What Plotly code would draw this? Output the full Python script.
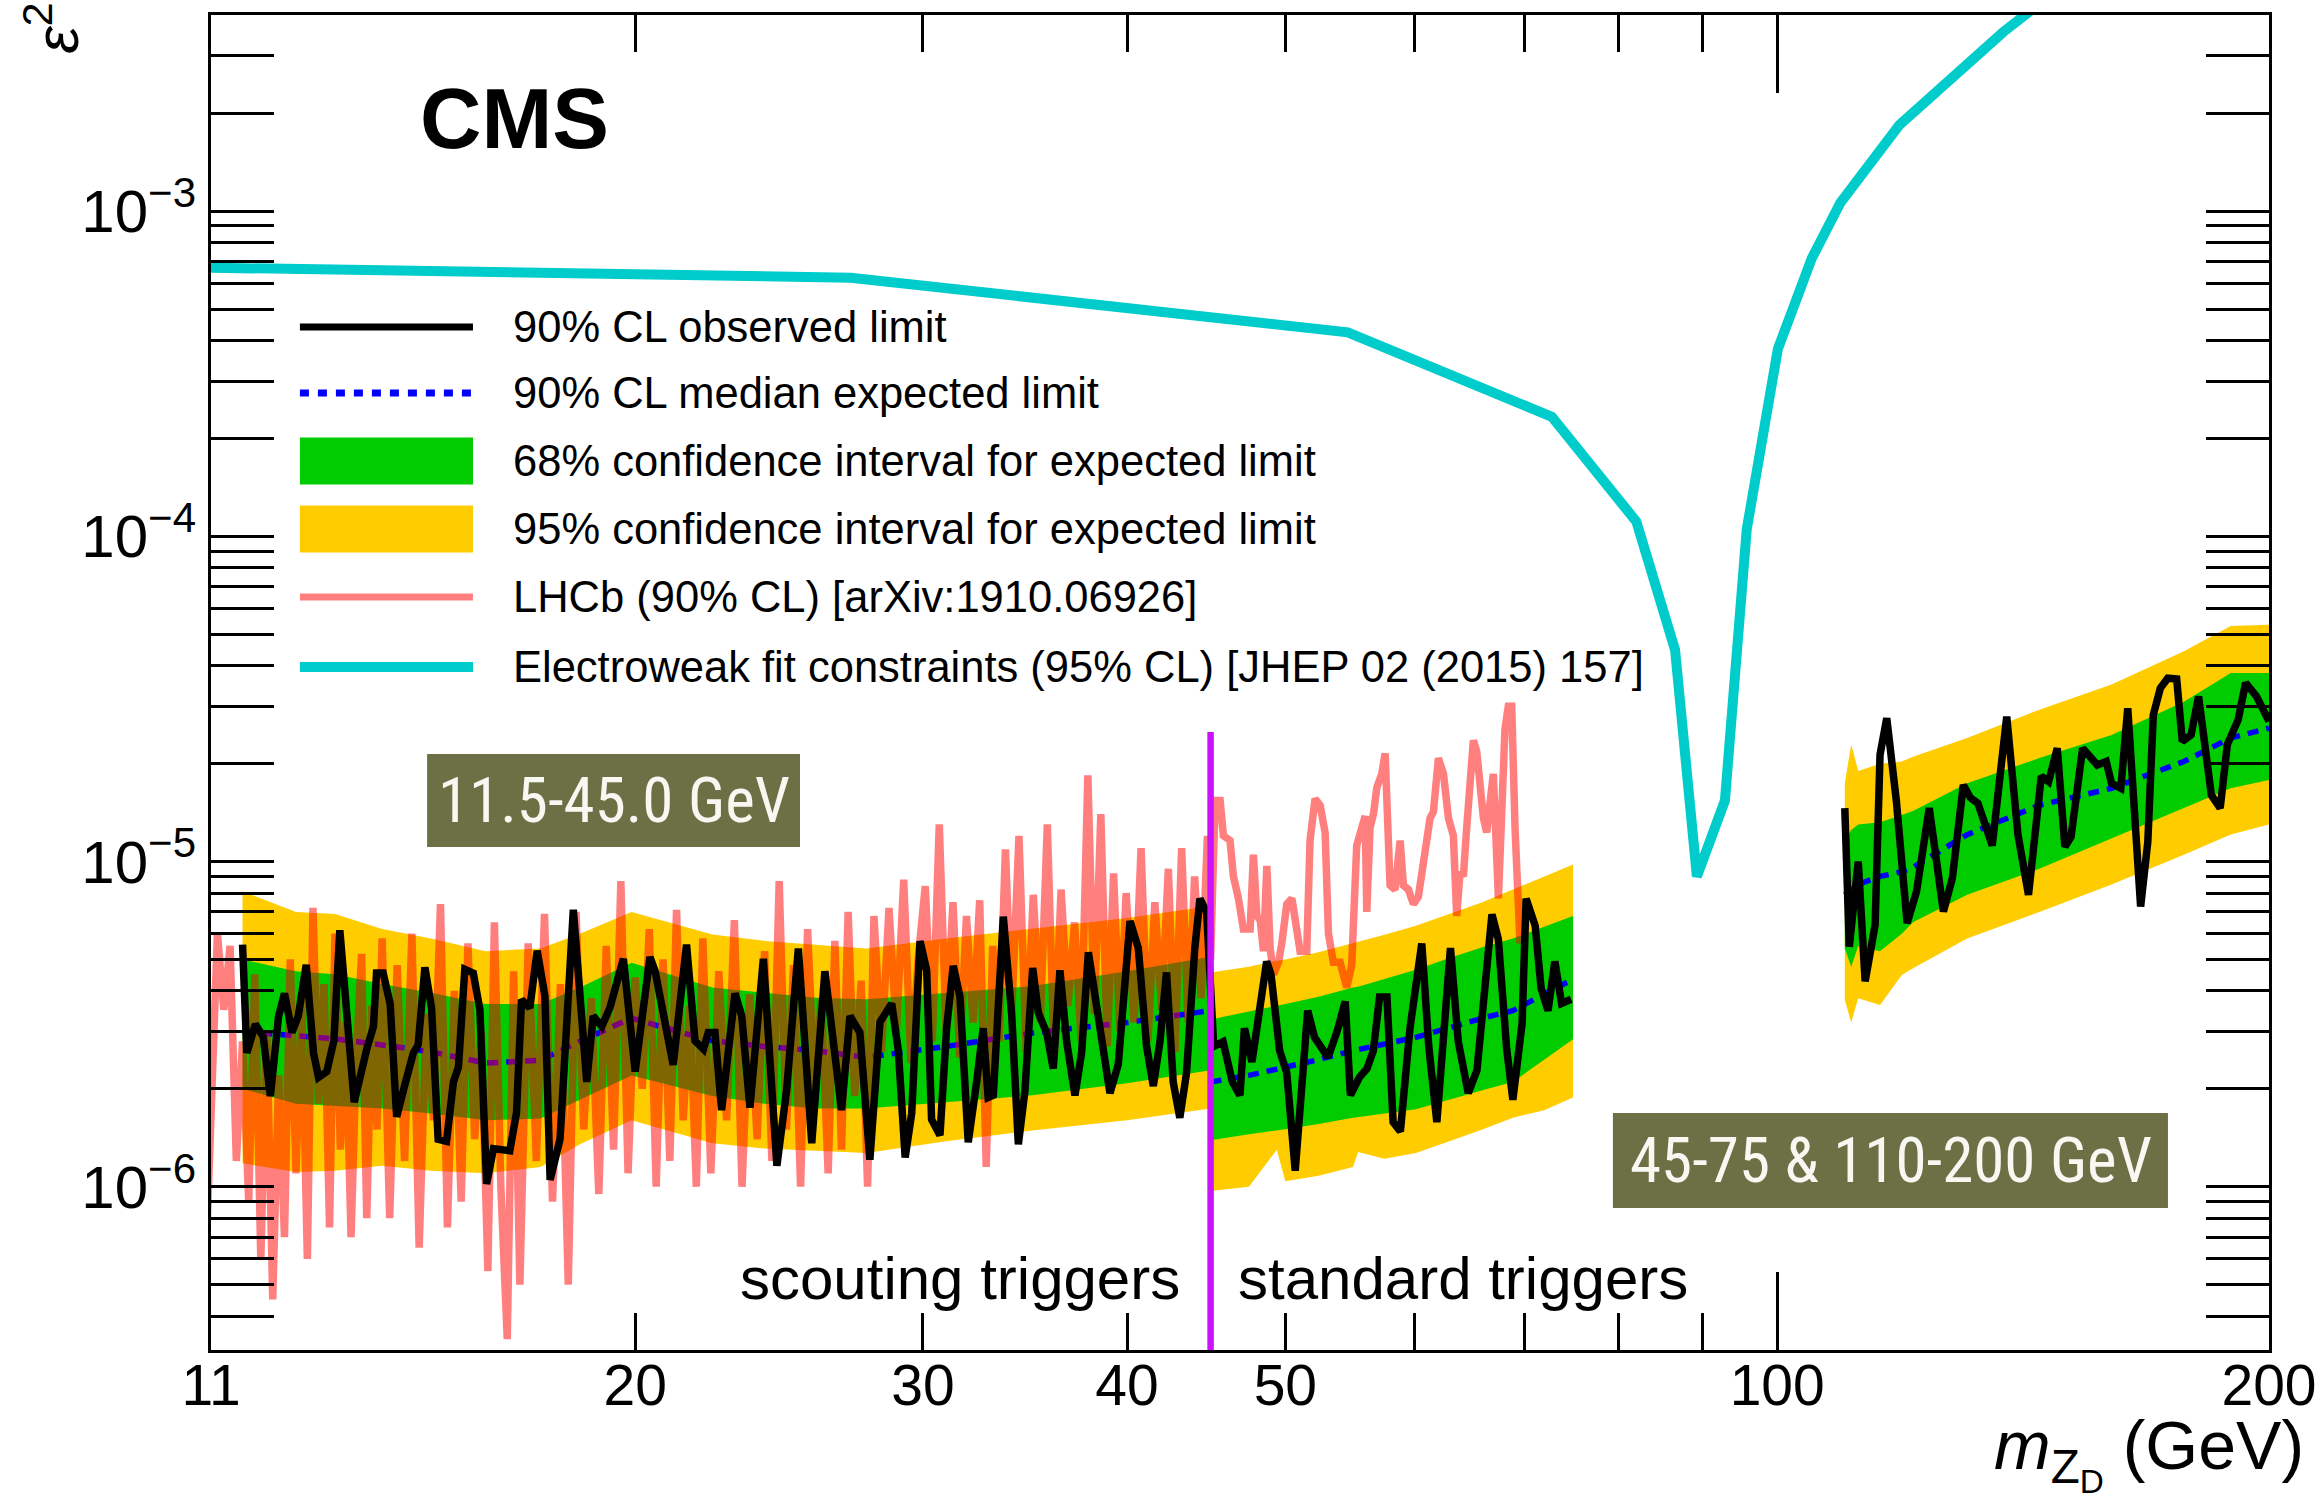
import math
import plotly.graph_objects as go

FONT = "Liberation Sans, Arial, Helvetica, sans-serif"
E6 = 1e-6

# ---------------- data (mass in GeV, limits in units of 1e-6 unless noted) ----------------
# Region 1: scouting triggers 11.5-45 GeV
exp1_m = [11.5, 12.4, 13.1, 14.0, 15.0, 16.2, 17.5, 18.5, 19.9, 21.0, 22.3, 24.0, 25.8, 27.7, 31.0, 35.0, 40.0, 45.0]
exp1_y2hi = [8.1, 7.0, 6.9, 6.2, 5.8, 5.3, 5.4, 6.0, 7.0, 6.5, 5.97, 5.7, 5.56, 5.4, 5.8, 6.2, 6.7, 7.3]
exp1_y1hi = [5.0, 4.6, 4.5, 4.2, 3.95, 3.65, 3.65, 4.1, 4.88, 4.5, 4.1, 3.95, 3.81, 3.77, 3.95, 4.14, 4.6, 5.1]
exp1_y1lo = [2.0, 1.8, 1.77, 1.74, 1.68, 1.6, 1.62, 1.85, 2.2, 2.05, 1.9, 1.8, 1.74, 1.74, 1.82, 1.91, 2.08, 2.28]
exp1_y2lo = [1.18, 1.11, 1.12, 1.16, 1.12, 1.1, 1.15, 1.35, 1.6, 1.48, 1.36, 1.31, 1.29, 1.27, 1.38, 1.49, 1.6, 1.74]
exp1_med = [3.0, 2.9, 2.85, 2.73, 2.6, 2.4, 2.45, 2.8, 3.3, 3.05, 2.81, 2.7, 2.62, 2.5, 2.7, 2.97, 3.2, 3.48]

# Region 2: standard triggers 45-75 GeV
exp2_m = [45.0, 47.5, 49.4, 50.0, 52.4, 55.0, 55.4, 57.5, 60.1, 63.0, 66.0, 68.9, 72.0, 75.0]
exp2_y2hi = [4.56, 4.75, 4.95, 5.0, 5.26, 5.6, 5.65, 5.95, 6.35, 6.9, 7.5, 8.2, 9.0, 9.8]
exp2_y1hi = [3.27, 3.45, 3.6, 3.65, 3.84, 4.1, 4.12, 4.35, 4.65, 5.05, 5.45, 5.8, 6.3, 6.8]
exp2_y1lo = [1.39, 1.45, 1.49, 1.5, 1.56, 1.63, 1.64, 1.68, 1.73, 1.85, 1.98, 2.1, 2.45, 2.84]
exp2_y2lo = [0.97, 1.0, 1.3, 1.04, 1.08, 1.15, 1.28, 1.22, 1.27, 1.38, 1.5, 1.63, 1.72, 1.88]
exp2_med = [2.1, 2.2, 2.3, 2.33, 2.46, 2.62, 2.64, 2.75, 2.88, 3.08, 3.3, 3.48, 3.9, 4.35]

# Region 3: standard triggers 110-200 GeV
exp3_m = [110.0, 111.0, 112.1, 115.6, 119.2, 121.1, 130.7, 144.7, 160.2, 177.4, 189.5, 200.0]
exp3_y2hi = [17.4, 22.9, 19.0, 20.0, 20.3, 21.0, 24.0, 29.3, 35.0, 44.3, 53.0, 53.5]
exp3_y1hi = [11.5, 12.5, 13.0, 13.2, 13.9, 14.3, 17.4, 20.8, 24.5, 31.0, 38.0, 38.0]
exp3_y1lo = [5.4, 4.75, 5.5, 5.3, 6.0, 6.5, 7.9, 9.5, 11.8, 14.6, 16.8, 17.8]
exp3_y2lo = [3.75, 3.2, 3.8, 3.62, 4.48, 4.7, 5.8, 7.0, 8.5, 10.5, 12.1, 13.0]
exp3_med = [7.9, 8.2, 8.5, 9.0, 9.3, 9.6, 12.1, 14.9, 16.8, 20.3, 24.0, 25.7]

# Observed limit, 11.5-75 GeV (continuous) and 110-200 GeV
obs12_m = [11.50, 11.57, 11.71, 11.84, 11.96, 12.10, 12.20, 12.33, 12.44, 12.58, 12.71, 12.80, 12.95, 13.08,
           13.19, 13.32, 13.46, 13.70, 13.83, 13.89, 14.02, 14.16, 14.29, 14.46, 14.63, 14.73, 14.87, 15.01,
           15.15, 15.33, 15.48, 15.59, 15.73, 15.92, 16.07, 16.22, 16.38, 16.76, 16.92, 17.04, 17.24, 17.42,
           17.61, 17.74, 17.99, 18.33, 18.68, 18.85, 19.08, 19.30, 19.67, 20.00, 20.42, 20.57, 20.91, 21.10,
           21.50, 21.76, 22.02, 22.17, 22.38, 22.59, 23.02, 23.24, 23.51, 23.96, 24.42, 24.76, 25.17, 25.65,
           26.13, 26.75, 27.07, 27.45, 27.84, 28.24, 28.71, 28.98, 29.26, 29.53, 29.88, 30.16, 30.37, 30.73,
           31.02, 31.31, 31.61, 31.98, 32.36, 32.66, 32.89, 33.13, 33.60, 34.00, 34.32, 34.64, 35.02, 35.30,
           35.72, 36.05, 36.39, 36.74, 37.17, 37.52, 37.88, 38.32, 39.05, 39.51, 40.17, 40.64, 41.12, 41.51,
           41.90, 42.29, 42.69, 43.09, 43.50, 44.01, 44.33, 44.75,
           45.2, 45.8, 46.4, 46.9, 47.2, 47.7, 48.3, 48.7, 49.0, 49.6, 50.1, 50.7, 51.6, 52.1, 53.1, 53.8,
           54.4, 54.8, 55.5, 56.1, 56.6, 57.1, 57.7, 58.2, 58.8, 59.6, 60.6, 61.2, 61.9, 63.1, 63.8, 64.7,
           65.5, 66.9, 67.5, 68.3, 68.9, 69.8, 70.2, 71.1, 71.7, 72.4, 73.1, 73.8, 74.8]
obs12_y = [5.55, 2.58, 3.16, 2.89, 1.90, 3.35, 3.93, 2.98, 3.35, 4.81, 2.58, 2.17, 2.26, 2.81,
           6.15, 3.55, 1.82, 2.65, 3.11, 4.54, 4.54, 3.65, 1.64, 2.07, 2.58, 2.73, 4.73, 3.55,
           1.40, 1.38, 2.10, 2.33, 4.66, 4.54, 3.49, 1.02, 1.31, 1.29, 1.69, 3.76, 3.55, 5.32,
           3.86, 1.05, 1.40, 7.11, 2.10, 3.35, 3.11, 3.55, 5.02, 2.26, 5.09, 4.60, 3.07, 2.37,
           5.55, 2.81, 2.65, 2.98, 2.98, 1.72, 3.93, 3.35, 1.75, 5.02, 1.16, 1.99, 5.40, 1.36,
           4.60, 1.72, 3.35, 2.98, 1.21, 3.21, 3.66, 2.62, 1.23, 1.68, 5.69, 4.63, 1.61, 1.44,
           3.07, 4.78, 3.83, 1.37, 2.10, 3.07, 1.88, 1.91, 6.77, 3.38, 1.35, 1.97, 4.71, 3.43,
           2.97, 2.31, 4.63, 2.79, 1.91, 2.58, 5.26, 3.60, 1.94, 2.38, 6.56, 5.42, 2.70, 2.04,
           2.79, 4.56, 2.10, 1.63, 2.24, 5.42, 7.69, 6.99,
           2.70, 2.79, 2.10, 1.91, 3.07, 2.42, 3.71, 4.93, 4.49, 2.62, 2.24, 1.12, 3.48, 2.88, 2.50, 3.02,
           3.71, 1.91, 2.17, 2.31, 2.62, 3.83, 3.83, 1.58, 1.48, 3.07, 5.60, 2.70, 1.58, 5.42, 2.79, 1.94,
           2.28, 6.88, 5.78, 2.66, 1.85, 3.17, 7.69, 6.35, 4.08, 3.48, 4.93, 3.66, 3.77]

obs3_m = [110.0, 110.7, 112.1, 113.2, 114.8, 115.6, 116.7, 118.3, 120.1, 121.7, 123.9, 126.4, 128.0, 130.0,
          131.3, 132.7, 135.4, 138.2, 140.4, 142.5, 145.1, 146.6, 148.4, 150.0, 151.3, 153.8, 157.0, 159.0,
          160.2, 162.3, 163.9, 165.6, 166.9, 168.6, 169.9, 171.6, 173.4, 175.6, 177.0, 179.2, 181.1, 184.4,
          186.7, 188.6, 191.5, 193.5, 196.5, 200.0]
obs3_y = [14.6, 5.47, 10.0, 4.28, 6.38, 21.3, 27.6, 15.3, 6.46, 8.09, 14.6, 7.02, 8.88, 17.2,
          15.7, 15.1, 11.2, 27.9, 12.1, 7.9, 18.3, 17.6, 22.3, 11.1, 11.9, 22.3, 19.8, 20.3,
          17.4, 16.8, 29.6, 12.1, 7.27, 11.5, 28.2, 34.1, 36.6, 36.4, 23.4, 24.5, 32.2, 16.0,
          14.6, 22.9, 27.3, 35.4, 32.2, 27.0]

# LHCb (90% CL) [arXiv:1910.06926]
lhcb_m = [10.9, 11.0, 11.1, 11.2, 11.3, 11.4, 11.5, 11.6, 11.7, 11.8, 11.9, 12.0, 12.1, 12.2, 12.3, 12.4,
          12.5, 12.6, 12.7, 12.8, 12.9, 13.0, 13.1, 13.2, 13.3, 13.4, 13.5, 13.6, 13.7, 13.8, 13.9, 14.0,
          14.15, 14.3, 14.45, 14.6, 14.75, 14.9, 15.05, 15.2, 15.35, 15.5, 15.65, 15.8, 15.95, 16.1, 16.25,
          16.4, 16.55, 16.7, 16.85, 17.0,
          17.2, 17.4, 17.6, 17.8, 18.0, 18.2, 18.4, 18.6, 18.8, 19.0, 19.2, 19.4, 19.6, 19.8, 20.0, 20.2,
          20.4, 20.6, 20.8, 21.0, 21.2, 21.4, 21.6, 21.8, 22.0,
          22.25, 22.5, 22.75, 23.0, 23.25, 23.5, 23.75, 24.0, 24.25, 24.5, 24.75, 25.0, 25.25, 25.5, 25.75,
          26.0, 26.25, 26.5, 26.75, 27.0, 27.25, 27.5, 27.75, 28.0,
          28.3, 28.6, 28.9, 29.2, 29.5, 29.8, 30.1, 30.4, 30.7, 31.0, 31.3, 31.6, 31.9, 32.2, 32.5, 32.8,
          33.1, 33.4, 33.7, 34.0,
          34.35, 34.7, 35.05, 35.4, 35.75, 36.1, 36.45, 36.8, 37.15, 37.5, 37.85, 38.2, 38.55, 38.9, 39.25,
          39.6, 39.95,
          40.4, 40.8, 41.2, 41.6, 42.0, 42.4, 42.8, 43.2, 43.6, 44.0, 44.4, 44.8, 45.0,
          45.29, 45.61, 45.82, 46.25, 46.47, 46.80, 47.13, 47.58, 47.80, 48.03, 48.26, 48.48, 48.71, 48.94,
          49.17, 49.52, 49.75, 50.10, 50.46, 50.81, 51.05, 51.53, 51.77, 52.14, 52.51, 52.88, 53.13, 53.50,
          54.01, 54.52, 54.90, 55.29, 55.68, 55.95, 56.08, 56.34, 56.61, 56.88, 57.28, 57.55, 57.95, 58.36,
          58.78, 59.05, 59.47, 59.89, 60.31, 60.74, 61.31, 61.60, 62.04, 62.48, 62.92, 63.36, 63.66, 63.96,
          64.26, 64.56, 65.17, 65.48, 65.79, 66.10, 66.41, 67.03, 67.51, 68.14, 68.46, 68.79, 69.11, 69.60]
lhcb_y = [0.45, 2.0, 6.0, 3.5, 5.5, 1.2, 2.8, 0.9, 4.5, 0.6, 3.0, 0.45, 2.2, 0.7, 5.0, 1.1,
          3.8, 0.6, 7.2, 1.8, 4.2, 0.75, 6.0, 1.3, 3.2, 0.7, 2.5, 5.2, 0.8, 3.6, 1.5, 5.8,
          0.8, 4.8, 1.2, 6.0, 0.65, 3.4, 1.6, 7.4, 0.75, 4.0, 0.9, 5.6, 1.4, 3.0, 0.55,
          6.5, 1.0, 0.34, 4.6, 0.5,
          5.6, 1.2, 6.9, 0.9, 4.2, 0.5, 7.0, 1.5, 3.8, 0.95, 5.5, 1.3, 8.7, 1.1, 4.4, 2.0,
          6.2, 1.0, 5.0, 1.2, 7.1, 1.6, 3.6, 1.0, 5.8,
          1.1, 4.6, 1.6, 6.6, 1.0, 3.9, 1.4, 5.3, 1.2, 8.7, 1.5, 4.8, 1.0, 6.2, 2.0,
          3.8, 1.1, 5.7, 1.3, 7.0, 1.9, 4.3, 1.0, 6.8,
          2.6, 7.2, 3.0, 8.8, 2.4, 5.0, 8.4, 2.8, 13.0, 3.0, 7.5, 2.5, 6.8, 3.2, 7.6, 1.15,
          5.5, 2.8, 10.9, 3.4,
          12.0, 2.6, 7.9, 3.2, 13.0, 2.5, 8.2, 3.6, 6.5, 2.8, 18.4, 3.4, 14.0, 2.7, 9.2,
          3.0, 8.0,
          3.2, 11.0, 2.8, 7.5, 3.5, 9.5, 2.6, 11.0, 3.2, 9.0, 3.8, 12.0, 5.0,
          15.4, 15.4, 12.0, 11.6, 9.0, 7.7, 6.2, 6.2, 10.5, 6.8, 6.6, 5.3, 9.7, 5.4,
          4.5, 4.9, 5.6, 7.4, 7.7, 6.35, 5.3, 5.3, 11.6, 15.6, 14.9, 12.3, 6.0, 4.9,
          4.9, 4.1, 4.8, 11.2, 12.7, 13.8, 7.0, 12.7, 14.0, 16.9, 18.6, 21.5, 8.45, 8.2,
          11.6, 8.45, 8.2, 7.4, 7.8, 9.6, 13.6, 14.2, 20.8, 18.6, 13.6, 12.0, 6.8, 9.3,
          9.0, 12.7, 23.6, 21.8, 16.9, 13.6, 12.3, 18.6, 7.7, 25.6, 30.0, 30.0, 12.7, 5.6]

# Electroweak fit constraints (95% CL) [JHEP 02 (2015) 157] (absolute epsilon^2)
ew_m = [11.0, 27.1, 54.6, 72.8, 82.0, 86.6, 89.3, 92.9, 95.8, 100.1, 105.0, 109.3, 118.8, 137.5, 150.0]
ew_y = [6.7e-4, 6.24e-4, 4.24e-4, 2.33e-4, 1.11e-4, 4.47e-5, 9.0e-6, 1.54e-5, 1.05e-4, 3.77e-4, 7.16e-4,
        1.06e-3, 1.84e-3, 3.55e-3, 5.0e-3]

# Boundary between scouting and standard triggers
split_m = [45.0, 45.0]
split_y = [2.5e-5, 1e-7]

x_ticks = [11, 20, 30, 40, 50, 100, 200]
x_minor = [60, 70, 80, 90]
y_ticks = [1e-6, 1e-5, 1e-4, 1e-3]
y_ticktext = ["10<sup>\u22126</sup>", "10<sup>\u22125</sup>", "10<sup>\u22124</sup>", "10<sup>\u22123</sup>"]

# ---------------- colours ----------------
YELLOW = "#ffcc00"
GREEN = "#00cc00"
BLUE = "#0000ff"
LHCB = "rgba(255,0,0,0.5)"
CYAN = "#00cccc"
MAGENTA = "#cc11ff"
OLIVE = "#6d6f45"


def s(vals):
    return [v * E6 for v in vals]


fig = go.Figure()


def band(m, lo, hi, color):
    fig.add_trace(go.Scatter(x=m + m[::-1], y=s(hi) + s(lo)[::-1], fill="toself", fillcolor=color,
                             mode="lines", line=dict(width=0, color=color), hoverinfo="skip",
                             showlegend=False))


for m, y2lo, y1lo, y1hi, y2hi in [(exp1_m, exp1_y2lo, exp1_y1lo, exp1_y1hi, exp1_y2hi),
                                  (exp2_m, exp2_y2lo, exp2_y1lo, exp2_y1hi, exp2_y2hi),
                                  (exp3_m, exp3_y2lo, exp3_y1lo, exp3_y1hi, exp3_y2hi)]:
    band(m, y2lo, y2hi, YELLOW)
    band(m, y1lo, y1hi, GREEN)

for m, med in [(exp1_m, exp1_med), (exp2_m, exp2_med), (exp3_m, exp3_med)]:
    fig.add_trace(go.Scatter(x=m, y=s(med), mode="lines", showlegend=False,
                             line=dict(color=BLUE, width=5.5, dash="11px,8px")))

fig.add_trace(go.Scatter(x=lhcb_m, y=s(lhcb_y), mode="lines", showlegend=False,
                         line=dict(color=LHCB, width=7.5)))

for m, y in [(obs12_m, obs12_y), (obs3_m, obs3_y)]:
    fig.add_trace(go.Scatter(x=m, y=s(y), mode="lines", showlegend=False,
                             line=dict(color="black", width=7.5)))

fig.add_trace(go.Scatter(x=ew_m, y=ew_y, mode="lines", showlegend=False, xaxis="x2",
                         line=dict(color=CYAN, width=10)))

fig.add_trace(go.Scatter(x=split_m, y=split_y, mode="lines", showlegend=False,
                         line=dict(color=MAGENTA, width=6.5)))

xr = [math.log10(11), math.log10(200)]
yr = [-6.502, -2.397]

axis_common = dict(showgrid=False, zeroline=False, showline=True, linewidth=3, linecolor="black",
                   ticks="inside", tickwidth=3, tickcolor="black", mirror="allticks", automargin=False)

fig.update_layout(
    width=2318, height=1507,
    margin=dict(l=211, r=49, t=15, b=157, autoexpand=False),
    paper_bgcolor="white", plot_bgcolor="white",
    showlegend=False,
    font=dict(family=FONT, color="black"),
    xaxis=dict(type="log", range=xr, tickmode="array", tickvals=x_ticks,
               ticktext=[str(v) for v in x_ticks], ticklen=37, ticklabelstandoff=-16,
               tickfont=dict(size=57, family=FONT, color="black"),
               minor=dict(tickmode="array", tickvals=x_minor, ticks="inside", ticklen=37,
                          tickwidth=3, tickcolor="black", showgrid=False),
               **axis_common),
    xaxis2=dict(type="log", range=xr, overlaying="x", side="bottom", tickmode="array", tickvals=[100],
                ticks="inside", ticklen=78, tickwidth=3, tickcolor="black", showticklabels=False,
                showline=False, showgrid=False, zeroline=False, mirror="ticks", automargin=False),
    yaxis=dict(type="log", range=yr, tickmode="array", tickvals=y_ticks, ticktext=y_ticktext,
               ticklen=63, tickfont=dict(size=60, family=FONT, color="black"),
               minor=dict(tickmode="array",
                          tickvals=[d * 10.0 ** e for e in range(-7, -1) for d in range(2, 10)],
                          ticks="inside", ticklen=32, tickwidth=3, tickcolor="black", showgrid=False),
               **axis_common),
)

# ---------------- legend (drawn manually) ----------------
leg_x0, leg_x1, leg_tx = 0.0432, 0.1273, 0.1458
rows = [0.7663, 0.7169, 0.6659, 0.615, 0.564, 0.5116]
labels = ["90% CL observed limit",
          "90% CL median expected limit",
          "68% confidence interval for expected limit",
          "95% confidence interval for expected limit",
          "LHCb (90% CL) [arXiv:1910.06926]",
          "Electroweak fit constraints (95% CL) [JHEP 02 (2015) 157]"]
shapes = []
shapes.append(dict(type="line", xref="paper", yref="paper", x0=leg_x0, x1=leg_x1, y0=rows[0], y1=rows[0],
                   line=dict(color="black", width=7)))
shapes.append(dict(type="line", xref="paper", yref="paper", x0=leg_x0, x1=leg_x1, y0=rows[1], y1=rows[1],
                   line=dict(color=BLUE, width=7, dash="9px,9px")))
for r, c in [(rows[2], GREEN), (rows[3], YELLOW)]:
    shapes.append(dict(type="rect", xref="paper", yref="paper", x0=leg_x0, x1=leg_x1, y0=r - 0.0176,
                       y1=r + 0.0176, fillcolor=c, line=dict(width=0)))
shapes.append(dict(type="line", xref="paper", yref="paper", x0=leg_x0, x1=leg_x1, y0=rows[4], y1=rows[4],
                   line=dict(color=LHCB, width=7)))
shapes.append(dict(type="line", xref="paper", yref="paper", x0=leg_x0, x1=leg_x1, y0=rows[5], y1=rows[5],
                   line=dict(color=CYAN, width=10)))
# olive label boxes
shapes.append(dict(type="rect", xref="paper", yref="paper", x0=0.105, x1=0.2862, y0=0.3768, y1=0.4464,
                   fillcolor=OLIVE, line=dict(width=0)))
shapes.append(dict(type="rect", xref="paper", yref="paper", x0=0.6812, x1=0.9509, y0=0.1064, y1=0.1775,
                   fillcolor=OLIVE, line=dict(width=0)))
fig.update_layout(shapes=shapes)

ann = []
for r, t in zip(rows, labels):
    ann.append(dict(xref="paper", yref="paper", x=leg_tx, y=r, text=t, showarrow=False,
                    xanchor="left", yanchor="middle", font=dict(size=43.5, family=FONT, color="black")))
ann.append(dict(xref="paper", yref="paper", x=0.1006, y=0.9228, text="<b>CMS</b>", showarrow=False,
                xanchor="left", yanchor="middle", font=dict(size=85, family=FONT, color="black")))
ann.append(dict(xref="paper", yref="paper", x=0.4718, y=0.0539, text="scouting triggers", showarrow=False,
                xanchor="right", yanchor="middle", font=dict(size=60, family=FONT, color="black")))
ann.append(dict(xref="paper", yref="paper", x=0.498, y=0.0539, text="standard triggers", showarrow=False,
                xanchor="left", yanchor="middle", font=dict(size=60, family=FONT, color="black")))
BOXFONT = "Liberation Sans Narrow, Roboto Condensed, Roboto, sans-serif"
ann.append(dict(xref="paper", yref="paper", x=0.1956, y=0.4116, text="11.5-45.0 GeV", showarrow=False,
                xanchor="center", yanchor="middle", font=dict(size=63, family=BOXFONT, color="#f8f8f2")))
ann.append(dict(xref="paper", yref="paper", x=0.8161, y=0.1419, text="45-75 &amp; 110-200 GeV", showarrow=False,
                xanchor="center", yanchor="middle", font=dict(size=63, family=BOXFONT, color="#f8f8f2")))
ann.append(dict(xref="paper", yref="paper", x=-0.0773, y=1.011, text="<i>\u03b5</i><sup>2</sup>",
                showarrow=False, textangle=-90, xanchor="center", yanchor="top",
                font=dict(size=62, family=FONT, color="black")))
ann.append(dict(xref="paper", yref="paper", x=1.018, y=-0.0779,
                text="<i>m</i><sub>Z<sub>D</sub></sub> (GeV)", showarrow=False,
                xanchor="right", yanchor="middle", font=dict(size=68, family=FONT, color="black")))
fig.update_layout(annotations=ann)

fig.write_html("out.html")
